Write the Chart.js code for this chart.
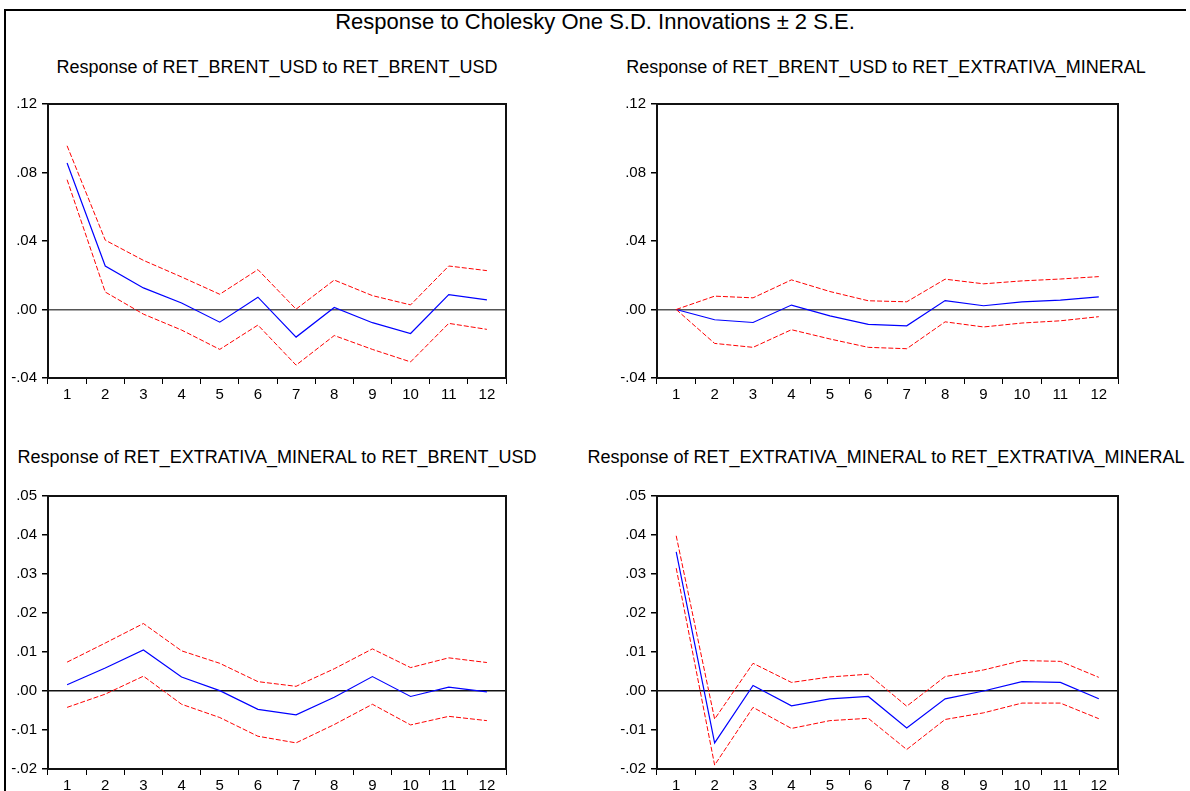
<!DOCTYPE html>
<html>
<head>
<meta charset="utf-8">
<script src="https://cdn.jsdelivr.net/npm/chart.js@4.4.1/dist/chart.umd.min.js"></script>
<style>
  body { margin: 0; background: #fff; font-family: "Liberation Sans", Arial, sans-serif; }
  #hoja { position: absolute; left: 0; top: 0; width: 1186px; height: 791px; overflow: hidden; }
  #marco { position: absolute; left: 4px; top: 9px; width: 1180px; height: 800px; border: 2px solid #000; }
  .titulo { position: absolute; white-space: nowrap; transform: translate(-50%, -50%); color: #000; }
  #titulo-general { left: 595px; top: 22px; font-size: 22px; }
  .subtitulo { font-size: 18px; }
  canvas { position: absolute; }
</style>
</head>
<body>
<div id="hoja">
  <div id="marco"></div>
  <div class="titulo" id="titulo-general">Response to Cholesky One S.D. Innovations ± 2 S.E.</div>
  <div class="titulo subtitulo" style="left:277px; top:67px">Response of RET_BRENT_USD to RET_BRENT_USD</div>
  <div class="titulo subtitulo" style="left:886px; top:67px">Response of RET_BRENT_USD to RET_EXTRATIVA_MINERAL</div>
  <div class="titulo subtitulo" style="left:277px; top:457px">Response of RET_EXTRATIVA_MINERAL to RET_BRENT_USD</div>
  <div class="titulo subtitulo" style="left:886px; top:457px">Response of RET_EXTRATIVA_MINERAL to RET_EXTRATIVA_MINERAL</div>
  <canvas id="brent-brent" width="520" height="320" style="left:0px; top:90px"></canvas>
  <canvas id="brent-mineral" width="523" height="320" style="left:609px; top:90px"></canvas>
  <canvas id="mineral-brent" width="520" height="319" style="left:0px; top:482px"></canvas>
  <canvas id="mineral-mineral" width="523" height="319" style="left:609px; top:482px"></canvas>
</div>
<script>
const periodos = ['1', '2', '3', '4', '5', '6', '7', '8', '9', '10', '11', '12'];

// ejes verticales
const ticksBrent = [-0.04, 0, 0.04, 0.08, 0.12];
const etiquetasBrent = ['-.04', '.00', '.04', '.08', '.12'];
const ticksMineral = [-0.02, -0.01, 0, 0.01, 0.02, 0.03, 0.04, 0.05];
const etiquetasMineral = ['-.02', '-.01', '.00', '.01', '.02', '.03', '.04', '.05'];

// RET_BRENT_USD ante RET_BRENT_USD
const brentBrent = [0.0855, 0.0254, 0.0126, 0.0038, -0.0074, 0.0072, -0.0161, 0.0012, -0.0077, -0.0140, 0.0087, 0.0056];
const brentBrentSup = [0.0956, 0.0405, 0.0287, 0.0190, 0.0089, 0.0233, 0.0002, 0.0172, 0.0081, 0.0027, 0.0254, 0.0227];
const brentBrentInf = [0.0758, 0.0102, -0.0027, -0.0120, -0.0233, -0.0091, -0.0325, -0.0152, -0.0233, -0.0306, -0.0081, -0.0116];

// RET_BRENT_USD ante RET_EXTRATIVA_MINERAL
const brentMineral = [0, -0.0060, -0.0076, 0.0026, -0.0037, -0.0087, -0.0095, 0.0052, 0.0022, 0.0045, 0.0055, 0.0074];
const brentMineralSup = [0, 0.0078, 0.0068, 0.0173, 0.0105, 0.0051, 0.0045, 0.0177, 0.0150, 0.0167, 0.0178, 0.0192];
const brentMineralInf = [0, -0.0198, -0.0221, -0.0118, -0.0172, -0.0221, -0.0229, -0.0072, -0.0102, -0.0079, -0.0066, -0.0042];

// RET_EXTRATIVA_MINERAL ante RET_BRENT_USD
const mineralBrent = [0.0016, 0.0059, 0.0105, 0.0036, 0.0001, -0.0047, -0.0061, -0.0016, 0.0037, -0.0014, 0.0010, -0.0002];
const mineralBrentSup = [0.0074, 0.0123, 0.0173, 0.0103, 0.0071, 0.0024, 0.0012, 0.0057, 0.0108, 0.0060, 0.0085, 0.0073];
const mineralBrentInf = [-0.0042, -0.0008, 0.0038, -0.0034, -0.0068, -0.0116, -0.0133, -0.0086, -0.0034, -0.0087, -0.0065, -0.0076];

// RET_EXTRATIVA_MINERAL ante RET_EXTRATIVA_MINERAL
const mineralMineral = [0.0357, -0.0133, 0.0014, -0.0038, -0.0020, -0.0014, -0.0095, -0.0020, 0.0000, 0.0024, 0.0022, -0.0020];
const mineralMineralSup = [0.0398, -0.0072, 0.0071, 0.0022, 0.0036, 0.0043, -0.0039, 0.0037, 0.0054, 0.0078, 0.0076, 0.0035];
const mineralMineralInf = [0.0315, -0.0190, -0.0042, -0.0096, -0.0076, -0.0070, -0.0150, -0.0073, -0.0056, -0.0031, -0.0031, -0.0071];

const fuente = { family: '"Liberation Sans", Arial, sans-serif', size: 15 };

// recuadro completo alrededor del area de trazado
const marco = {
  id: 'marco',
  afterDatasetsDraw(chart) {
    const { ctx, chartArea: a } = chart;
    ctx.save();
    ctx.strokeStyle = '#111';
    ctx.lineWidth = 2;
    ctx.strokeRect(a.left, a.top, a.right - a.left, a.bottom - a.top);
    ctx.restore();
  }
};

function crearPanel(idCanvas, central, superior, inferior, ticks, etiquetas, colorCero) {
  const banda = (datos) => ({
    data: datos,
    borderColor: '#ff0000',
    borderWidth: 1,
    borderDash: [5, 2],
    pointRadius: 0,
    tension: 0
  });
  new Chart(document.getElementById(idCanvas), {
    type: 'line',
    data: {
      labels: periodos,
      datasets: [
        banda(superior),
        banda(inferior),
        { data: central, borderColor: '#0000ff', borderWidth: 1.2, pointRadius: 0, tension: 0 }
      ]
    },
    options: {
      responsive: false,
      animation: false,
      devicePixelRatio: 1,
      layout: { padding: { left: 0, top: 13, right: 14, bottom: 0 } },
      plugins: { legend: { display: false }, tooltip: { enabled: false } },
      scales: {
        x: {
          offset: true,
          border: { display: false },
          grid: { offset: true, drawOnChartArea: false, tickLength: 6, tickColor: '#000' },
          ticks: { color: '#000', font: fuente, padding: 2, maxRotation: 0, autoSkip: false },
          afterFit: (escala) => { escala.height = 32; }
        },
        y: {
          min: ticks[0],
          max: ticks[ticks.length - 1],
          border: { display: false },
          afterBuildTicks: (escala) => { escala.ticks = ticks.map(v => ({ value: v })); },
          grid: {
            color: (c) => (c.tick && c.tick.value === 0 ? colorCero : 'transparent'),
            lineWidth: 1.5,
            tickColor: '#000',
            tickLength: 6
          },
          ticks: { color: '#000', font: fuente, padding: 5, callback: (v, i) => etiquetas[i] },
          afterFit: (escala) => { escala.width = 48; }
        }
      }
    },
    plugins: [marco]
  });
}

crearPanel('brent-brent', brentBrent, brentBrentSup, brentBrentInf, ticksBrent, etiquetasBrent, '#555');
crearPanel('brent-mineral', brentMineral, brentMineralSup, brentMineralInf, ticksBrent, etiquetasBrent, '#555');
crearPanel('mineral-brent', mineralBrent, mineralBrentSup, mineralBrentInf, ticksMineral, etiquetasMineral, '#111');
crearPanel('mineral-mineral', mineralMineral, mineralMineralSup, mineralMineralInf, ticksMineral, etiquetasMineral, '#111');
</script>
</body>
</html>
